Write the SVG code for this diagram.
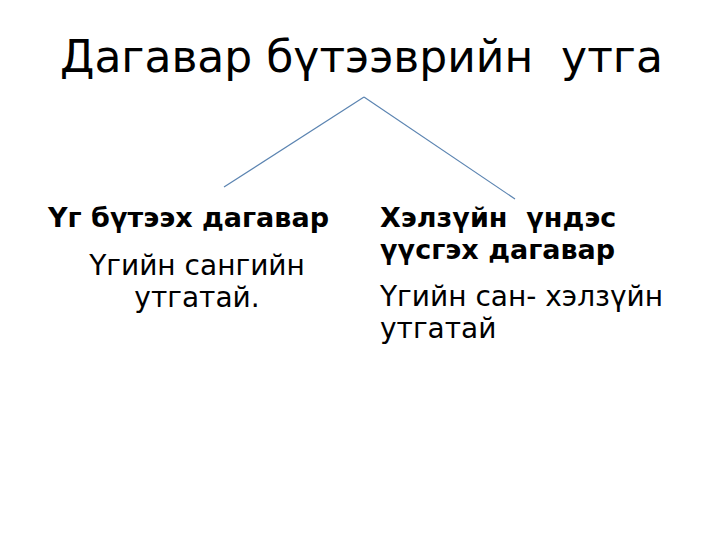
<svg xmlns="http://www.w3.org/2000/svg" width="728" height="546" viewBox="0 0 728 546">
<style>
text{font-family:"DejaVu Sans","Noto Sans",sans-serif;fill:#000}
.t{font-size:44px}
.h{font-size:27px;font-weight:bold}
.b{font-size:28px}
.c{stroke:#5b84b1;stroke-width:1.2;fill:none}
</style>
<rect width="728" height="546" fill="#fff"/>
<g id="title"><text class="t" x="60" y="72" xml:space="preserve">Дагавар бүтээврийн  утга</text></g>
<g id="connectors">
<path class="c" d="M224,187 L364,97"/>
<path class="c" d="M364,97 L515,199"/>
</g>
<g id="left">
<text class="h" x="48" y="227">Үг бүтээх дагавар</text>
<text class="b" x="197" y="275" text-anchor="middle">Үгийн сангийн</text>
<text class="b" x="197" y="307" text-anchor="middle">утгатай.</text>
</g>
<g id="right">
<text class="h" x="380" y="227" xml:space="preserve">Хэлзүйн  үндэс</text>
<text class="h" x="380" y="259">үүсгэх дагавар</text>
<text class="b" x="380" y="306">Үгийн сан- хэлзүйн</text>
<text class="b" x="380" y="338">утгатай</text>
</g>
</svg>
